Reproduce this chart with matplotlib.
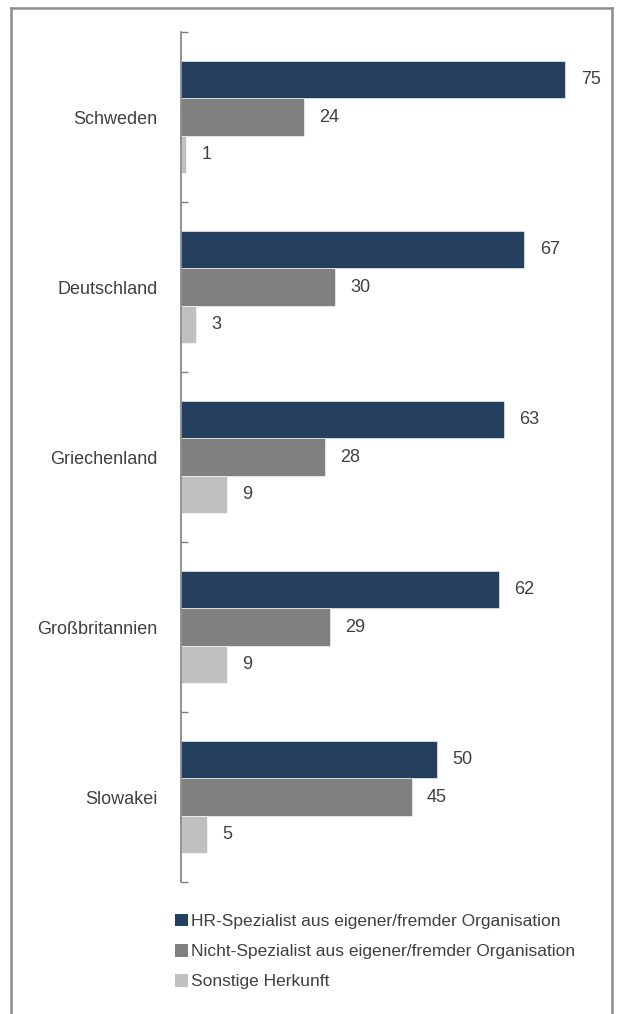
import matplotlib.pyplot as plt
import numpy as np
from matplotlib.lines import Line2D
from matplotlib.patches import Patch

plt.rcParams['font.family'] = ['Liberation Sans', 'DejaVu Sans']

# Data
countries = ['Schweden', 'Deutschland', 'Griechenland', 'Großbritannien', 'Slowakei']
hr_spezialist = [75, 67, 63, 62, 50]
nicht_spezialist = [24, 30, 28, 29, 45]
sonstige = [1, 3, 9, 9, 5]
series_names = ['HR-Spezialist aus eigener/fremder Organisation',
                'Nicht-Spezialist aus eigener/fremder Organisation',
                'Sonstige Herkunft']
colors = ['#253F5F', '#808080', '#C0C0C0']

W, H = 619, 1014
fig = plt.figure(figsize=(W / 100, H / 100), dpi=100)
ax = fig.add_axes([181 / W, 1 - 882 / H, 410 / W, 850 / H])

n = len(countries)
y = np.arange(n)
bar_h = 0.218
series = [hr_spezialist, nicht_spezialist, sonstige]
for i, (vals, col) in enumerate(zip(series, colors)):
    pos = y + (i - 1) * bar_h
    ax.barh(pos, vals, height=bar_h, color=col, edgecolor='white', linewidth=0.4)
    for p, v in zip(pos, vals):
        ax.annotate(str(v), (v, p), xytext=(11, 0), textcoords='offset points',
                    va='center', ha='left', fontsize=13, color='#404040')

ax.set_xlim(0, 80)
ax.set_ylim(n - 0.5, -0.5)
ax.set_yticks(y)
ax.set_yticklabels(countries, fontsize=13, color='#404040')
ax.tick_params(axis='y', which='major', length=0, pad=17)
ax.set_yticks(np.arange(-0.5, n, 1), minor=True)
ax.tick_params(axis='y', which='minor', length=5, direction='in', color='#808080', width=1)
ax.set_xticks([])
for s in ['top', 'right', 'bottom']:
    ax.spines[s].set_visible(False)
ax.spines['left'].set_color('#808080')
ax.spines['left'].set_linewidth(1.2)

# Legend
handles = [Patch(facecolor=c, edgecolor='none') for c in colors]
fig.legend(handles, series_names, loc='upper left',
           bbox_to_anchor=(159 / W, 1 - 898 / H), frameon=False,
           fontsize=12.5, handlelength=0.75, handleheight=0.75,
           handletextpad=0.2, labelspacing=0.85, labelcolor='#404040')

# Outer frame (open at the bottom)
fx0, fx1, fy1 = 11 / W, 612 / W, 1 - 8 / H
frame_kw = dict(color='#8c8c8c', linewidth=1.8, transform=fig.transFigure)
fig.add_artist(Line2D([fx0, fx0], [0, fy1], **frame_kw))
fig.add_artist(Line2D([fx0, fx1], [fy1, fy1], **frame_kw))
fig.add_artist(Line2D([fx1, fx1], [0, fy1], **frame_kw))

fig.savefig('out.png', dpi=100)
